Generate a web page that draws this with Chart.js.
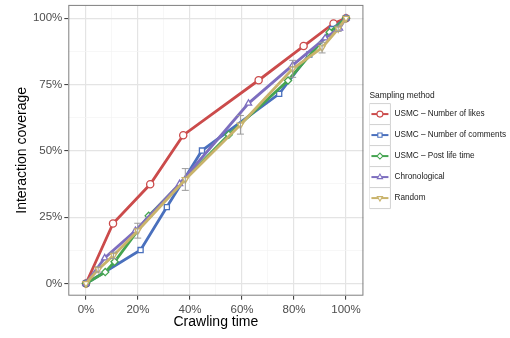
<!DOCTYPE html>
<html>
<head>
<meta charset="utf-8">
<script src="https://cdn.jsdelivr.net/npm/chart.js@4.4.0/dist/chart.umd.min.js"></script>
<style>
  html, body { margin: 0; padding: 0; background: #fff; }
</style>
</head>
<body>
<canvas id="coverage" width="510" height="338"></canvas>
<script>
// sampling methods, in legend order
const seriesNames = ['USMC – Number of likes', 'USMC – Number of comments', 'USMC – Post life time', 'Chronological', 'Random'];

// crawling time (%) / interaction coverage (%) for each method
const likesX = [0, 10.4, 24.7, 37.4, 66.4, 83.7, 95.2, 100];
const likesY = [0, 22.6, 37.4, 55.9, 76.6, 89.5, 98.0, 100];
const commentsX = [0, 21.0, 31.1, 44.6, 74.3, 85.9, 94.6, 100];
const commentsY = [0, 12.6, 28.8, 50.1, 71.5, 86.3, 95.9, 100];
const lifeX = [0, 7.4, 11.0, 24.1, 54.9, 77.7, 93.7, 100];
const lifeY = [0, 4.3, 8.2, 25.5, 56.1, 76.5, 94.7, 100];
const chronoX = [0, 7.2, 19.0, 36.0, 62.5, 79.5, 92.0, 97.5, 100];
const chronoY = [0, 9.6, 19.9, 37.6, 67.9, 82.3, 92.5, 96.2, 100];
const randomX = [0, 4.7, 10.6, 19.9, 38.2, 59.4, 79.5, 90.8, 97.0, 100];
const randomY = [0, 5.3, 10.6, 19.9, 39.2, 59.8, 80.9, 88.9, 96.0, 100];
const randomErr = [0, 1.0, 1.2, 2.8, 4.1, 3.5, 3.2, 2.0, 1.0, 0];

// axis ticks
const xMajor = [0, 20, 40, 60, 80, 100];
const xMinor = [10, 30, 50, 70, 90];
const yMajor = [0, 25, 50, 75, 100];
const yMinor = [12.5, 37.5, 62.5, 87.5];

const colors = ['#cb4b4b', '#4a70bd', '#45a451', '#7d6ebf', '#c9b36b'];
const shapes = ['circle', 'rect', 'rectRot', 'triangle', 'triangle'];
const rotations = [0, 0, 0, 0, 180];

Chart.defaults.font.family = '"Liberation Sans", Arial, sans-serif';

function toPoints(xs, ys) {
    return xs.map(function(x, i) { return { x: x, y: ys[i] }; });
}

const allX = [likesX, commentsX, lifeX, chronoX, randomX];
const allY = [likesY, commentsY, lifeY, chronoY, randomY];

const datasets = seriesNames.map(function(name, i) {
    return {
        label: name,
        data: toPoints(allX[i], allY[i]),
        borderColor: colors[i],
        backgroundColor: '#ffffff',
        borderWidth: 2.8,
        pointStyle: shapes[i],
        pointRotation: rotations[i],
        pointRadius: 3.6,
        pointHoverRadius: 3.6,
        pointBorderWidth: 1.3,
        pointBackgroundColor: '#ffffff',
        pointBorderColor: colors[i],
        tension: 0,
        order: seriesNames.length - i
    };
});

function tickList(major, minor) {
    return major.concat(minor).sort(function(a, b) { return a - b; }).map(function(v) { return { value: v }; });
}

function gridStyle(major) {
    return {
        color: function(c) { return major.includes(c.tick.value) ? '#e4e4e4' : '#f3f3f3'; },
        lineWidth: function(c) { return major.includes(c.tick.value) ? 1.2 : 0.7; },
        tickColor: function(c) { return major.includes(c.tick.value) ? '#333333' : 'rgba(0,0,0,0)'; },
        tickWidth: 1,
        tickLength: 4
    };
}

// error bars on the random sample + the panel border
const extras = {
    id: 'extras',
    afterDatasetsDraw(chart) {
        const ctx = chart.ctx;
        const xs = chart.scales.x;
        const ys = chart.scales.y;
        ctx.save();
        ctx.strokeStyle = '#9b9b9b';
        ctx.lineWidth = 1;
        randomX.forEach(function(x, i) {
            if (!randomErr[i]) return;
            const px = xs.getPixelForValue(x);
            const top = ys.getPixelForValue(randomY[i] + randomErr[i]);
            const bot = ys.getPixelForValue(randomY[i] - randomErr[i]);
            ctx.beginPath();
            ctx.moveTo(px, top); ctx.lineTo(px, bot);
            ctx.moveTo(px - 3.5, top); ctx.lineTo(px + 3.5, top);
            ctx.moveTo(px - 3.5, bot); ctx.lineTo(px + 3.5, bot);
            ctx.stroke();
        });
        const a = chart.chartArea;
        ctx.strokeStyle = '#7f7f7f';
        ctx.strokeRect(a.left + 0.5, a.top + 0.5, a.right - a.left - 1, a.bottom - a.top - 1);
        ctx.restore();
    }
};

// legend keys: line + marker on top of the boxes drawn by the legend
const legendKeys = {
    id: 'legendKeys',
    afterLayout(chart) {
        chart.legend.left += 6;
        chart.legend.right += 6;
    },
    afterDraw(chart) {
        const ctx = chart.ctx;
        chart.legend.legendHitBoxes.forEach(function(box, i) {
            const cx = box.left + 10.5;
            const cy = box.top + 10.5;
            ctx.save();
            ctx.strokeStyle = colors[i];
            ctx.lineWidth = 2;
            ctx.beginPath();
            ctx.moveTo(box.left + 2, cy);
            ctx.lineTo(box.left + 19, cy);
            ctx.stroke();
            ctx.fillStyle = '#ffffff';
            ctx.lineWidth = 1.1;
            Chart.helpers.drawPoint(ctx, { pointStyle: shapes[i], radius: 3, rotation: rotations[i], borderWidth: 1.1 }, cx, cy);
            ctx.restore();
        });
    }
};

new Chart(document.getElementById('coverage'), {
    type: 'line',
    data: { datasets: datasets },
    options: {
        responsive: false,
        animation: false,
        layout: { padding: { top: 2.3, left: 0, bottom: 0, right: 0 } },
        plugins: {
            tooltip: { enabled: false },
            legend: {
                position: 'right',
                align: 'start',
                maxWidth: 160,
                title: {
                    display: true,
                    text: 'Sampling method',
                    position: 'start',
                    color: '#1a1a1a',
                    font: { size: 8.4 },
                    padding: { top: 89.4, bottom: 1.8 }
                },
                labels: {
                    boxWidth: 21,
                    boxHeight: 21,
                    padding: 0,
                    color: '#1a1a1a',
                    font: { size: 8.2 },
                    generateLabels: function(chart) {
                        return chart.data.datasets.map(function(ds, i) {
                            return {
                                text: ds.label,
                                datasetIndex: i,
                                fillStyle: '#ffffff',
                                strokeStyle: '#d2d2d2',
                                lineWidth: 1,
                                fontColor: '#1a1a1a',
                                hidden: false
                            };
                        });
                    }
                }
            }
        },
        scales: {
            x: {
                type: 'linear',
                min: -6.8,
                max: 106.7,
                afterBuildTicks: function(s) { s.ticks = tickList(xMajor, xMinor); },
                afterFit: function(s) { s.height = 42.3; s.paddingLeft = 0; s.paddingRight = 0; },
                ticks: {
                    autoSkip: false,
                    maxRotation: 0,
                    padding: 3,
                    color: '#4d4d4d',
                    font: { size: 11.5 },
                    callback: function(v) { return xMajor.includes(v) ? v + '%' : ''; }
                },
                grid: gridStyle(xMajor),
                border: { display: false },
                title: { display: true, text: 'Crawling time', color: '#000000', font: { size: 14 }, padding: { top: 0, bottom: 7 } }
            },
            y: {
                type: 'linear',
                min: -4.6,
                max: 105,
                afterBuildTicks: function(s) { s.ticks = tickList(yMajor, yMinor); },
                afterFit: function(s) { s.width = 68.3; s.paddingTop = 0; s.paddingBottom = 0; },
                ticks: {
                    autoSkip: false,
                    padding: 2,
                    color: '#4d4d4d',
                    font: { size: 11.5 },
                    callback: function(v) { return yMajor.includes(v) ? v + '%' : ''; }
                },
                grid: gridStyle(yMajor),
                border: { display: false },
                title: { display: true, text: 'Interaction coverage', color: '#000000', font: { size: 14 }, padding: { top: 13.6, bottom: 0 } }
            }
        }
    },
    plugins: [extras, legendKeys]
});
</script>
</body>
</html>
